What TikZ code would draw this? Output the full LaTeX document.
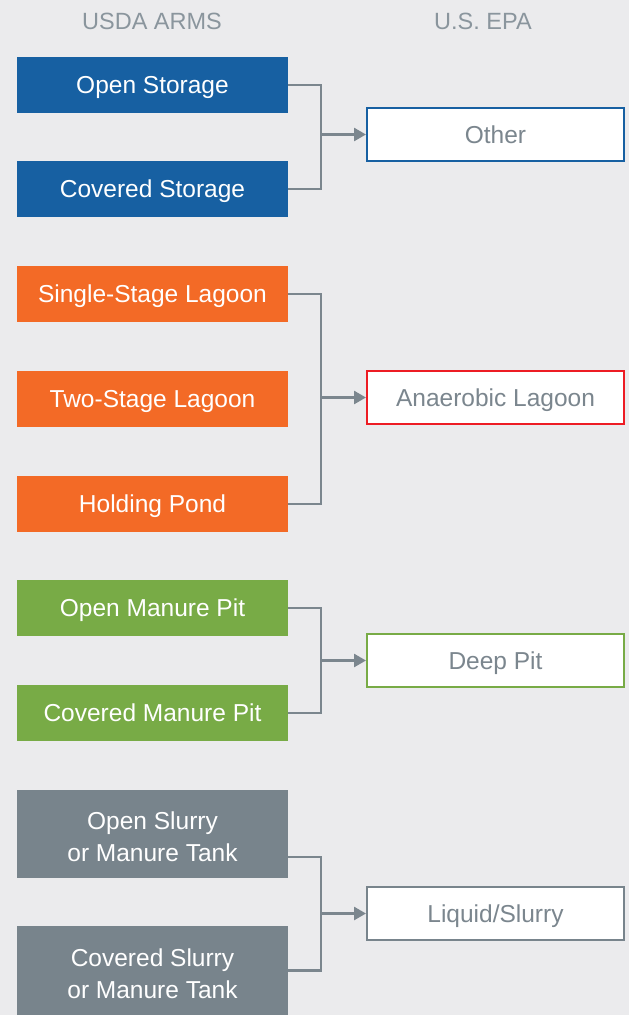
\documentclass[tikz,border=0pt]{standalone}
\usepackage{fontspec}
\setmainfont{Liberation Sans}
\usetikzlibrary{arrows.meta}
\definecolor{bg}{HTML}{EBEBED}
\definecolor{cblue}{HTML}{1760A2}
\definecolor{corange}{HTML}{F36A26}
\definecolor{cgreen}{HTML}{78AB46}
\definecolor{cslate}{HTML}{78848C}
\definecolor{cred}{HTML}{ED1C24}
\definecolor{lgray}{HTML}{7B868E}
\definecolor{hgray}{HTML}{8A959D}
\begin{document}
\begin{tikzpicture}[x=1pt,y=-1pt,
  srcbox/.style={rectangle, inner sep=0pt, minimum width=271pt, minimum height=56pt,
    text=white, font=\fontsize{24.5}{32}\selectfont, align=center},
  oneline/.style={text height=17.6pt, text depth=0pt},
  dstbox/.style={rectangle, draw, line width=2pt, fill=white, inner sep=0pt,
    minimum width=257pt, minimum height=53pt, text=lgray,
    font=\fontsize{24.5}{32}\selectfont, oneline},
  hdr/.style={text=hgray, font=\fontsize{23.5}{28}\selectfont, text height=16.9pt, text depth=0pt},
  conn/.style={draw=lgray, line width=2.6pt, miter limit=10},
  arr/.style={conn, -{Triangle[length=12pt, width=13pt]}}]
\fill[bg] (0,0) rectangle (629,1015);
\useasboundingbox (0,0) rectangle (629,1015);

\node[hdr] (h1) at (152,21.5) {USDA ARMS};
\node[hdr] (h2) at (483,21.5) {U.S. EPA};

% left column
\node[srcbox, oneline, fill=cblue] (os) at (152.5,85) {Open Storage};
\node[srcbox, oneline, fill=cblue] (cs) at (152.5,189) {Covered Storage};
\node[srcbox, oneline, fill=corange] (ssl) at (152.5,294) {Single-Stage Lagoon};
\node[srcbox, oneline, fill=corange] (tsl) at (152.5,399) {Two-Stage Lagoon};
\node[srcbox, oneline, fill=corange] (hp) at (152.5,504) {Holding Pond};
\node[srcbox, oneline, fill=cgreen] (omp) at (152.5,608) {Open Manure Pit};
\node[srcbox, oneline, fill=cgreen] (cmp) at (152.5,713) {Covered Manure Pit};
\node[srcbox, fill=cslate, minimum height=88pt] (ost) at (152.5,834) {};
\node[text=white, font=\fontsize{24.5}{32}\selectfont, align=center, inner sep=0pt] (ostt) at (152.5,837) {Open Slurry\\or Manure Tank};
\node[srcbox, fill=cslate, minimum height=89pt] (cst) at (152.5,970.5) {};
\node[text=white, font=\fontsize{24.5}{32}\selectfont, align=center, inner sep=0pt] (cstt) at (152.5,973.5) {Covered Slurry\\or Manure Tank};

% right column
\node[dstbox, draw=cblue] (oth) at (495.5,134.5) {Other};
\node[dstbox, draw=cred] (al) at (495.5,397.5) {Anaerobic Lagoon};
\node[dstbox, draw=cgreen] (dp) at (495.5,660.5) {Deep Pit};
\node[dstbox, draw=cslate] (ls) at (495.5,913.5) {Liquid/Slurry};

% bus points
\coordinate (b1) at (321,134.5);
\coordinate (b2) at (321,397.5);
\coordinate (b3) at (321,660.5);
\coordinate (b4) at (321,913.5);

\draw[conn] (os.east) -| (b1) |- (cs.east);
\draw[arr] (b1) -- (oth.west);

\draw[conn] (ssl.east) -| (b2) |- (hp.east);
\draw[arr] (b2) -- (al.west);

\draw[conn] (omp.east) -| (b3) |- (cmp.east);
\draw[arr] (b3) -- (dp.west);

\draw[conn] ([yshift=-23pt]ost.east) -| (b4) |- (cst.east);
\draw[arr] (b4) -- (ls.west);
\end{tikzpicture}
\end{document}
